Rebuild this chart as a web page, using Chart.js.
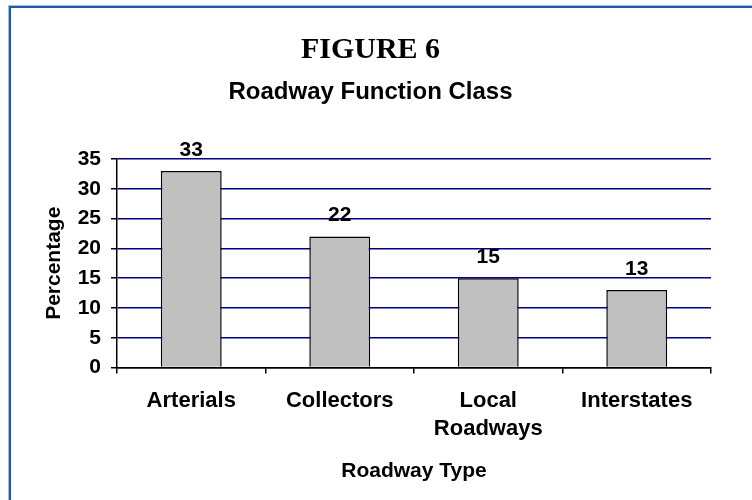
<!DOCTYPE html>
<html>
<head>
<meta charset="utf-8">
<script src="https://cdn.jsdelivr.net/npm/chart.js@4.4.0/dist/chart.umd.min.js"></script>
<style>
  body { margin: 0; background: #fff; }
  #wrap { position: relative; width: 752px; height: 500px; overflow: hidden; }
  #frame {
    position: absolute; left: 9px; top: 6px; width: 800px; height: 600px;
    border-left: 2px solid #1f5aa6; border-top: 2px solid #1f5aa6;
    box-shadow: -1px -1px 0 #a9bfdc;
  }
  canvas { position: absolute; left: 0; top: 0; }
</style>
</head>
<body>
<div id="wrap">
  <div id="frame"></div>
  <canvas id="roadChart" width="752" height="500"></canvas>
</div>
<script>
// roadway function class, percent of total
var categories = ["Arterials", "Collectors", ["Local", "Roadways"], "Interstates"];
var percentages = [33, 22, 15, 13];
var yTicks = [0, 5, 10, 15, 20, 25, 30, 35];

var sans = "'Liberation Sans', Arial, sans-serif";

// draws the value above each bar
var barLabels = {
  id: 'barLabels',
  afterDatasetsDraw: function(chart) {
    var ctx = chart.ctx;
    var meta = chart.getDatasetMeta(0);
    ctx.save();
    ctx.font = "bold 21px " + sans;
    ctx.fillStyle = "#000";
    ctx.textAlign = "center";
    ctx.textBaseline = "alphabetic";
    meta.data.forEach(function(bar, i) {
      ctx.fillText(chart.data.datasets[0].data[i], bar.x, bar.y - 15);
    });
    ctx.restore();
  }
};

var ctx = document.getElementById('roadChart').getContext('2d');
var roadChart = new Chart(ctx, {
  type: 'bar',
  data: {
    labels: categories,
    datasets: [{
      data: percentages,
      backgroundColor: "#c0c0c0",
      borderColor: "#000",
      borderWidth: 1.5,
      barPercentage: 0.41,
      categoryPercentage: 1
    }]
  },
  options: {
    responsive: false,
    animation: false,
    devicePixelRatio: 1,
    layout: {
      padding: { left: 30, right: 41, top: 0, bottom: 10 }
    },
    plugins: {
      legend: { display: false },
      tooltip: { enabled: false },
      title: {
        display: true,
        text: "FIGURE 6",
        color: "#000",
        font: { family: "'Liberation Serif', 'Times New Roman', serif", size: 30, weight: 'bold' },
        padding: { top: 32, bottom: 0 }
      },
      subtitle: {
        display: true,
        text: "Roadway Function Class",
        color: "#000",
        font: { family: sans, size: 24, weight: 'bold' },
        padding: { top: 10, bottom: 52.2 }
      }
    },
    scales: {
      x: {
        afterFit: function(scale) { scale.height = 122.5; },
        grid: {
          offset: true,
          drawOnChartArea: true,
          tickLength: 6,
          tickColor: "#000",
          lineWidth: 1.5,
          color: function(c) { return c.index === categories.length ? "#000080" : "rgba(0,0,0,0)"; }
        },
        border: { color: "#000", width: 1.5 },
        ticks: {
          color: "#000",
          padding: 13,
          font: { family: sans, size: 22, weight: 'bold', lineHeight: 1.3 }
        },
        title: {
          display: true,
          text: "Roadway Type",
          color: "#000",
          font: { family: sans, size: 21, weight: 'bold' },
          padding: { top: 0, bottom: 6.4 }
        }
      },
      y: {
        min: 0,
        max: 35,
        afterFit: function(scale) { scale.width = 87; },
        afterBuildTicks: function(scale) {
          scale.ticks = yTicks.map(function(v) { return { value: v }; });
        },
        grid: {
          tickLength: 6,
          tickColor: "#000",
          lineWidth: 1.5,
          color: function(c) { return c.tick && c.tick.value === 0 ? "#000" : "#000080"; }
        },
        border: { color: "#000", width: 1.5 },
        ticks: {
          color: "#000",
          padding: 10,
          font: { family: sans, size: 21, weight: 'bold' }
        },
        title: {
          display: true,
          text: "Percentage",
          color: "#000",
          font: { family: sans, size: 21, weight: 'bold' },
          padding: { top: 12, bottom: 0 }
        }
      }
    }
  },
  plugins: [barLabels]
});
</script>
</body>
</html>
